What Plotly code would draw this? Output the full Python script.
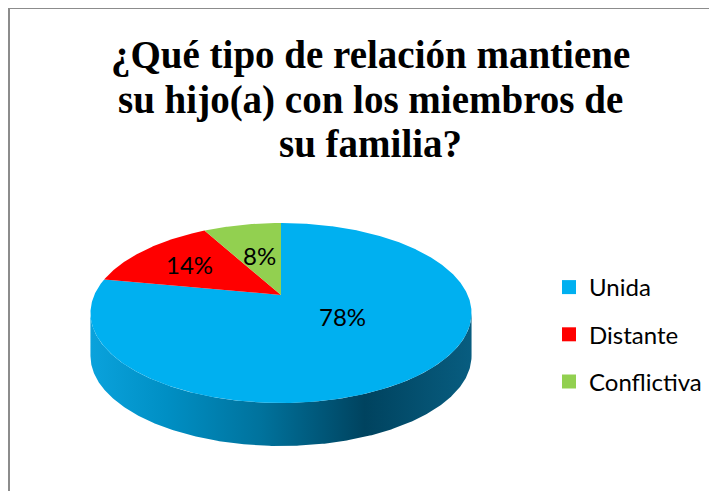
import numpy as np
import plotly.graph_objects as go

# ---- data ----
categories = ["Unida", "Distante", "Conflictiva"]
values = [78, 14, 8]
colors = ["#00B0F0", "#FF0000", "#92D050"]
title_lines = ["¿Qué tipo de relación mantiene", "su hijo(a) con los miembros de", "su familia?"]

# ---- layout constants (screen pixel space) ----
W, H = 717, 491
OFF = 8                    # page body margin
CX, CY = 281, 295          # projected centre of pie top
SX, SY = 186.7, 86.4       # projection scales
P = 0.2                    # perspective factor
DEPTH = 43                 # thickness of the pie side
LABEL_R = [0.48, 0.65, 0.52]
LABEL_DY = [-13, 0, 0]
TITLE_MID_Y = [55, 99.5, 144]
TITLE_X = 370


def px_x(s):
    return (s - OFF) / W


def px_y(s):
    return 1 - (s - OFF) / H


def proj(theta_deg, r=1.0):
    """theta measured clockwise from 12 o'clock, r fraction of radius."""
    t = np.radians(theta_deg)
    X = r * np.sin(t)
    Y = r * np.cos(t)
    d = 1 + P * Y
    return CX + SX * X / d, CY - SY * Y / d


fig = go.Figure()

# side wall (front half, visible part)
angs = np.linspace(0, 360, 3601)
xs, ys = proj(angs)
a_left = angs[int(np.argmin(xs))]
a_right = angs[int(np.argmax(xs))]
front = np.linspace(a_right, a_left, 300)
fx, fy = proj(front)
side_x = np.concatenate([fx, fx[::-1]])
side_y = np.concatenate([fy, fy[::-1] + DEPTH])
fig.add_trace(go.Scatter(
    x=side_x, y=side_y, mode="lines", fill="toself",
    line=dict(width=0, color="rgba(0,0,0,0)"),
    fillgradient=dict(type="horizontal", colorscale=[
        [0.0, "#0aa2dc"], [0.2, "#008fc4"], [0.45, "#00729c"],
        [0.72, "#00435f"], [1.0, "#085d80"]]),
    showlegend=False, hoverinfo="skip"))

# top surface slices
total = sum(values)
start = 0.0
mids = []
for cat, v, c in zip(categories, values, colors):
    span = 360.0 * v / total
    a = np.linspace(start, start + span, max(int(span * 3), 4))
    qx, qy = proj(a)
    sx = np.concatenate([[CX], qx, [CX]])
    sy = np.concatenate([[CY], qy, [CY]])
    fig.add_trace(go.Scatter(
        x=sx, y=sy, mode="lines", fill="toself", fillcolor=c,
        line=dict(width=0, color=c), showlegend=False,
        name=cat, hoverinfo="name"))
    mids.append(start + span / 2)
    start += span

# legend entries
for cat, c in zip(categories, colors):
    fig.add_trace(go.Scatter(
        x=[None], y=[None], mode="markers", name=cat, legendgroup=cat,
        marker=dict(symbol="square", size=14, color=c)))

# percentage labels
for v, m, r, dy in zip(values, mids, LABEL_R, LABEL_DY):
    lx, ly = proj(m, r)
    fig.add_annotation(x=lx, y=ly + dy, text=f"{round(100 * v / total)}%",
                       showarrow=False,
                       font=dict(family="Lato, Liberation Sans, sans-serif",
                                 size=24, color="black"))

# title (one annotation per line for tight line spacing)
for t, my in zip(title_lines, TITLE_MID_Y):
    fig.add_annotation(x=px_x(TITLE_X), y=px_y(my), xref="paper", yref="paper",
                       xanchor="center", yanchor="middle",
                       text=f"<b>{t}</b>", showarrow=False,
                       font=dict(family="Liberation Serif, Times New Roman, serif",
                                 size=39, color="black"))

# chart border
fig.add_shape(type="rect", xref="x", yref="y", x0=9, y0=8, x1=760, y1=540,
              line=dict(color="#8c8c8c", width=2), layer="below")

fig.update_layout(
    width=W, height=H,
    margin=dict(l=0, r=0, t=0, b=0),
    paper_bgcolor="white", plot_bgcolor="white",
    xaxis=dict(range=[OFF, W + OFF], visible=False, fixedrange=True),
    yaxis=dict(range=[H + OFF, OFF], visible=False, fixedrange=True),
    showlegend=True,
    legend=dict(x=px_x(549), y=px_y(265), xanchor="left", yanchor="top",
                font=dict(family="Lato, Liberation Sans, sans-serif", size=24,
                          color="black"),
                tracegroupgap=13, itemwidth=30, bgcolor="rgba(0,0,0,0)"),
)

fig.write_html("out.html")
